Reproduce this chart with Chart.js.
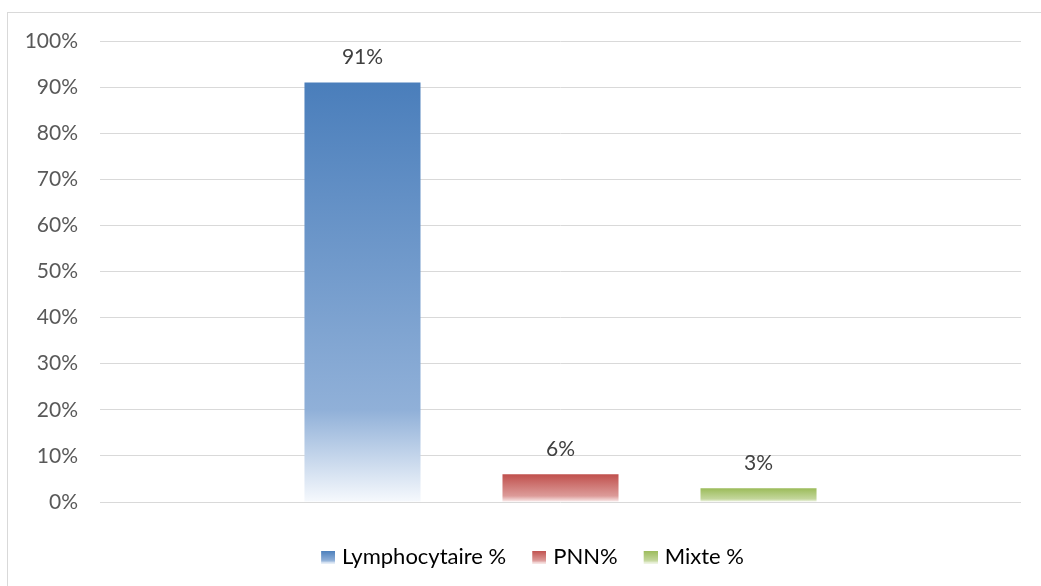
<!DOCTYPE html>
<html>
<head>
<meta charset="utf-8">
<script src="https://cdn.jsdelivr.net/npm/chart.js@4"></script>
<style>
  html, body { margin: 0; padding: 0; background: #fff; }
  #wrap { position: relative; width: 1041px; height: 586px; overflow: hidden; }
  #frame { position: absolute; left: 7px; top: 12px; width: 1100px; height: 700px;
           border-left: 1px solid #d9d9d9; border-top: 1px solid #d9d9d9; pointer-events: none; }
  canvas { position: absolute; left: 0; top: 0; }
</style>
</head>
<body>
<div id="wrap">
  <canvas id="c" width="1041" height="586"></canvas>
  <div id="frame"></div>
</div>
<script>
const categories = [""];
const seriesNames = ["Lymphocytaire %", "PNN%", "Mixte %"];
const lymphocytaire = [91];
const pnn = [6];
const mixte = [3];
const yTicks = [0, 10, 20, 30, 40, 50, 60, 70, 80, 90, 100];

const palettes = [
  ["#4a7ebb", "#90b0d8", "#f6f9fd"],
  ["#c0504d", "#dc9b99", "#fcf0f0"],
  ["#9bbb59", "#c4d79d", "#f6f9ef"]
];
const FONT = "Lato, 'Open Sans', sans-serif";

function makeGradient(ctx, top, bottom, pal) {
  const g = ctx.createLinearGradient(0, top, 0, bottom);
  g.addColorStop(0, pal[0]);
  g.addColorStop(0.78, pal[1]);
  g.addColorStop(1, pal[2]);
  return g;
}

function barFill(dsIndex) {
  return function(context) {
    const chart = context.chart;
    const pal = palettes[dsIndex];
    if (!chart.chartArea || !chart.scales.y || context.raw == null) return pal[0];
    const y = chart.scales.y;
    const top = y.getPixelForValue(context.raw);
    const bottom = y.getPixelForValue(0);
    if (!isFinite(top) || !isFinite(bottom) || bottom - top < 1) return pal[0];
    return makeGradient(chart.ctx, top, bottom, pal);
  };
}

function legendIcon(pal) {
  const cv = document.createElement('canvas');
  cv.width = 22; cv.height = 13;
  const c = cv.getContext('2d');
  c.fillStyle = makeGradient(c, 0, 13, pal);
  c.fillRect(8, 0, 14, 13);
  return cv;
}
const icons = palettes.map(legendIcon);

const dataLabels = {
  id: 'dataLabels',
  afterDatasetsDraw(chart) {
    const ctx = chart.ctx;
    ctx.save();
    ctx.font = "21px " + FONT;
    ctx.fillStyle = "#404040";
    ctx.textAlign = "center";
    ctx.textBaseline = "middle";
    chart.data.datasets.forEach((ds, i) => {
      const meta = chart.getDatasetMeta(i);
      meta.data.forEach((bar, j) => {
        ctx.fillText(ds.data[j] + "%", bar.x, bar.y - 25);
      });
    });
    ctx.restore();
  }
};

const legendShift = {
  id: 'legendShift',
  afterLayout(chart) {
    if (chart.legend) {
      chart.legend.left += 16;
      chart.legend.right += 16;
    }
  }
};

const seriesData = [lymphocytaire, pnn, mixte];

new Chart(document.getElementById('c'), {
  type: 'bar',
  data: {
    labels: categories,
    datasets: seriesNames.map((name, i) => ({
      label: name,
      data: seriesData[i],
      backgroundColor: barFill(i),
      borderWidth: 0,
      categoryPercentage: 0.645,
      barPercentage: 0.586
    }))
  },
  options: {
    responsive: false,
    animation: false,
    layout: { padding: { left: 8, right: 20, top: 41, bottom: 8 } },
    scales: {
      x: {
        display: true,
        afterFit(s) { s.height = 22; },
        grid: { display: false, drawTicks: false },
        border: { display: false },
        ticks: { display: false }
      },
      y: {
        min: 0, max: 100,
        afterFit(s) { s.width = 92; },
        afterBuildTicks(s) { s.ticks = yTicks.map(v => ({ value: v })); },
        grid: { color: "#d9d9d9", lineWidth: 1, drawTicks: false },
        border: { display: false },
        ticks: {
          padding: 22,
          color: "#595959",
          font: { family: FONT, size: 21 },
          callback: v => v + "%"
        }
      }
    },
    plugins: {
      tooltip: { enabled: false },
      legend: {
        position: 'bottom',
        labels: {
          usePointStyle: true,
          boxWidth: 14,
          boxHeight: 14,
          color: "#595959",
          font: { family: FONT, size: 22 },
          padding: 22,
          generateLabels(chart) {
            return chart.data.datasets.map((ds, i) => ({
              text: ds.label,
              fillStyle: palettes[i][0],
              strokeStyle: 'transparent',
              lineWidth: 0,
              pointStyle: icons[i],
              datasetIndex: i,
              hidden: false
            }));
          }
        }
      }
    }
  },
  plugins: [dataLabels, legendShift]
});
</script>
</body>
</html>
